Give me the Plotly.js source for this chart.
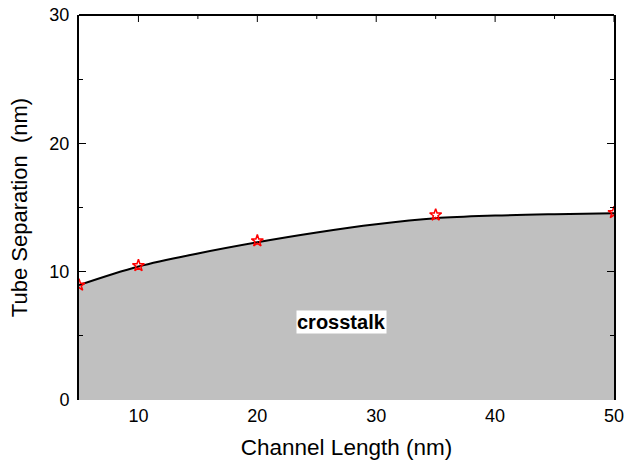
<!DOCTYPE html>
<html><head><meta charset="utf-8">
<script src="https://cdn.plot.ly/plotly-3.0.1.min.js"></script>
<style>html,body{margin:0;padding:0;background:#fff;overflow:hidden}#chart{width:640px;height:461px}</style>
</head><body><div id="chart"></div>
<script>
// Measured points (red stars)
const pointX = [5, 10, 20, 35, 50];
const pointY = [8.95, 10.47, 12.4, 14.42, 14.6];
// Fitted curve
const curveX = [5, 10, 15, 20, 25, 30, 35, 40, 45, 50];
const curveY = [8.95, 10.4, 11.42, 12.29, 13.05, 13.69, 14.16, 14.37, 14.48, 14.55];
const xTicks = [10, 20, 30, 40, 50];
const xMinor = [15, 25, 35, 45];
const yTicks = [0, 10, 20, 30];
const yMinor = [5, 15, 25];
const regionLabel = "crosstalk";

const font = {family: "Liberation Sans, Arial, sans-serif", color: "#000"};
const f = (s) => Object.assign({size: s}, font);
const plotH = 461 - 15 - 61;
const traces = [
  {x: curveX, y: curveY, type: "scatter", mode: "lines", fill: "tozeroy",
   fillcolor: "#c0c0c0", line: {color: "#000", width: 2, shape: "spline", smoothing: 1},
   hoverinfo: "skip", showlegend: false},
  {x: pointX, y: pointY, type: "scatter", mode: "markers",
   marker: {symbol: "star-open", color: "red", size: 9, line: {color: "red", width: 1.5}},
   showlegend: false}
];
// top edge line and top-edge ticks
const shapes = [{type: "line", xref: "paper", yref: "paper", x0: 0, x1: 1, y0: 1, y1: 1,
  line: {color: "#000", width: 2}, layer: "above"}];
xTicks.forEach(v => shapes.push({type: "line", xref: "x", yref: "paper", x0: v, x1: v,
  y0: 1, y1: 1 - 7 / plotH, line: {color: "#000", width: 1}, layer: "above"}));
xMinor.forEach(v => shapes.push({type: "line", xref: "x", yref: "paper", x0: v, x1: v,
  y0: 1, y1: 1 - 4 / plotH, line: {color: "#000", width: 1}, layer: "above"}));

const layout = {
  width: 640, height: 461,
  margin: {l: 79, r: 26, t: 15, b: 61},
  paper_bgcolor: "#fff", plot_bgcolor: "#fff",
  font: f(18),
  showlegend: false,
  shapes: shapes,
  xaxis: {range: [5, 50], tickvals: xTicks, ticktext: xTicks.map(String),
    ticks: "", showline: false, zeroline: false, showgrid: false,
    tickfont: f(18), ticklabelstandoff: 3,
    title: {text: "Channel Length (nm)", font: f(22.5), standoff: 14}},
  yaxis: {range: [0, 30], tickvals: yTicks, ticktext: yTicks.map(String),
    ticks: "inside", ticklen: 7, tickwidth: 1, tickcolor: "#000",
    showline: true, mirror: "ticks", linecolor: "#000", linewidth: 2,
    showgrid: false, zeroline: false, ticklabelstandoff: 4,
    minor: {tickvals: yMinor, ticks: "inside", ticklen: 4, tickcolor: "#000", tickwidth: 1},
    tickfont: f(18),
    title: {text: "Tube Separation  (nm)", font: f(22), standoff: 16}},
  annotations: [{x: 27.1, y: 6.08, xref: "x", yref: "y", text: "<b>" + regionLabel + "</b>",
    showarrow: false, bgcolor: "#fff", borderpad: 0,
    font: f(20)}]
};
Plotly.newPlot("chart", traces, layout, {staticPlot: true, displayModeBar: false});
</script></body></html>
